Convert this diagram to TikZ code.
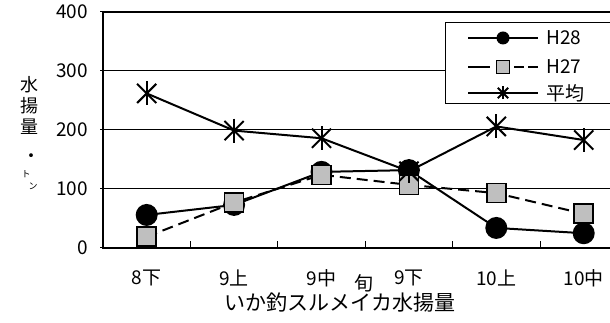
\documentclass[tikz,border=0pt]{standalone}
\usepackage{fontspec}
\setmainfont{Noto Sans CJK JP}
\usetikzlibrary{calc}
\begin{document}
\begin{tikzpicture}[x=1pt,y=1pt,
  gridline/.style={line width=1pt},
  axisline/.style={line width=1.2pt},
  serie/.style={line width=2pt},
  dashserie/.style={line width=2pt, dash pattern=on 11pt off 6pt},
  dotmark/.style={circle, fill=black, inner sep=0pt, minimum size=#1},
  sqmark/.style={rectangle, fill=black!25, draw=black, line width=1.6pt, inner sep=0pt, minimum size=#1},
  starmark/.style={rectangle, inner sep=0pt, minimum size=#1, path picture={
     \draw[line width=2pt] (path picture bounding box.north) -- (path picture bounding box.south);
     \draw[line width=2pt] ($(path picture bounding box.center)!0.8!(path picture bounding box.north west)$) -- ($(path picture bounding box.center)!0.8!(path picture bounding box.south east)$);
     \draw[line width=2pt] ($(path picture bounding box.center)!0.8!(path picture bounding box.north east)$) -- ($(path picture bounding box.center)!0.8!(path picture bounding box.south west)$);
  }},
  ticklab/.style={font=\fontsize{19}{19}\selectfont, inner sep=0pt},
  ylab/.style={font=\fontsize{18}{18}\selectfont, inner sep=0pt},
  tinylab/.style={font=\fontsize{9}{9}\selectfont, inner sep=0pt},
]
\useasboundingbox (0,0) rectangle (610,323);
\clip (0,0) rectangle (610,323);

% plot frame and grid
\coordinate (o) at (103,75);
\coordinate (tr) at (627,311);
\foreach \v in {100,200,300} {
  \draw[gridline] (100,{75+0.59*\v}) -- (627,{75+0.59*\v});
}
\draw[axisline] (103,311) -- (o) -- (627,75);
\draw[axisline] (103,311) -- (627,311) -- (627,75);
\draw[gridline] (100,75) -- (103,75);
\draw[gridline] (100,311) -- (103,311);
\foreach \i in {1,...,5} {
  \draw[gridline] ({103+\i*87.4},75) -- ({103+\i*87.4},82);
}

% y tick labels
\foreach \v in {0,100,200,300,400} {
  \node[ticklab, anchor=east] (y\v) at (88,{75+0.59*\v}) {\v};
}
% x tick labels
\foreach \i/\t in {1/8下,2/9上,3/9中,4/9下,5/10上,6/10中} {
  \node[ticklab] (x\i) at ({103+(\i-0.5)*87.4},45) {\t};
}
\node[ticklab] (xun) at (364,40) {旬};
\node[font=\fontsize{21}{21}\selectfont, inner sep=0pt] (title) at (340,20) {いか釣スルメイカ水揚量};

% y axis label
\node[ylab] (l1) at (29,238) {水};
\node[ylab] (l2) at (29,217) {揚};
\node[ylab] (l3) at (29,196) {量};
\node[ylab] (l4) at (31,165) {・};
\node[tinylab] (l5) at (26,149) {ト};
\node[tinylab] (l6) at (33,137) {ン};

% series H28
\foreach \i/\v in {1/56,2/73,3/129,4/132,5/34,6/25} {
  \coordinate (a\i) at ({103+(\i-0.5)*87.4},{75+0.59*\v});
}
\draw[serie] (a1) -- (a2) -- (a3) -- (a4) -- (a5) -- (a6);
\foreach \i in {1,...,6} { \node[dotmark=22pt] (ma\i) at (a\i) {}; }

% series H27
\foreach \i/\v in {1/19,2/77,3/124,4/107,5/93,6/58} {
  \coordinate (b\i) at ({103+(\i-0.5)*87.4},{75+0.59*\v});
}
\draw[dashserie] (b1) -- (b2) -- (b3) -- (b4) -- (b5) -- (b6);
\foreach \i in {1,...,6} { \node[sqmark=19pt] (mb\i) at (b\i) {}; }

% series average
\foreach \i/\v in {1/262,2/199,3/186,4/130,5/206,6/183} {
  \coordinate (c\i) at ({103+(\i-0.5)*87.4},{75+0.59*\v});
}
\draw[serie] (c1) -- (c2) -- (c3) -- (c4) -- (c5) -- (c6);
\foreach \i in {1,...,6} { \node[starmark=24pt] (mc\i) at (c\i) {}; }

% legend
\draw[line width=1pt, fill=white] (445,219) rectangle (640,300);
\coordinate (la1) at (468,285); \coordinate (la2) at (538,285);
\draw[serie] (la1) -- (la2);
\node[dotmark=13pt] (lma) at (503,285) {};
\node[ticklab, anchor=west] (lta) at (546,285) {H28};
\coordinate (lb1) at (468,256); \coordinate (lb2) at (538,256);
\draw[line width=2pt, dash pattern=on 22pt off 24pt on 10pt off 4pt] (lb1) -- (lb2);
\node[sqmark=13pt, line width=1.3pt] (lmb) at (503,256) {};
\node[ticklab, anchor=west] (ltb) at (546,256) {H27};
\coordinate (lc1) at (468,230); \coordinate (lc2) at (538,230);
\draw[serie] (lc1) -- (lc2);
\node[starmark=13pt] (lmc) at (503,230) {};
\node[ticklab, anchor=west] (ltc) at (546,230) {平均};
\end{tikzpicture}
\end{document}
